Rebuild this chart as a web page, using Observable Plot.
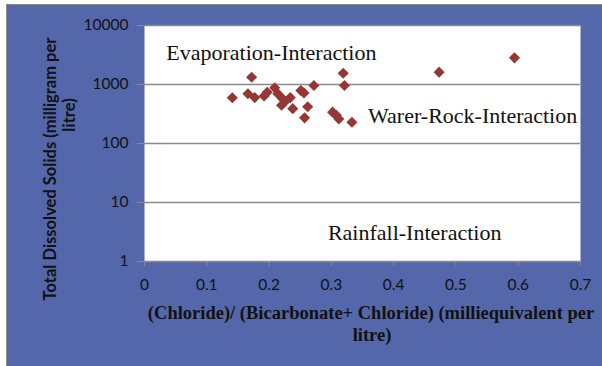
<!DOCTYPE html>
<html>
<head>
<meta charset="utf-8">
<script src="https://cdn.jsdelivr.net/npm/d3@7"></script>
<script src="https://cdn.jsdelivr.net/npm/@observablehq/plot@0.6"></script>
<style>
  html, body { margin: 0; padding: 0; background: #ffffff; }
  #wrap { position: relative; width: 602px; height: 366px; overflow: hidden; }
  #bg { position: absolute; left: 6px; top: 4px; width: 596px; height: 362px; background: #5567AB;
        border-left: 1px solid #8a8a8a; border-top: 1px solid #8a8a8a; box-sizing: border-box; }
  #chart { position: absolute; left: 0; top: 0; }
</style>
</head>
<body>
<div id="wrap"><div id="bg"></div><div id="chart"></div></div>
<script>
// Chloride / (Bicarbonate + Chloride) ratio
const ratio = [0.141, 0.172, 0.166, 0.177, 0.192, 0.197, 0.209, 0.214, 0.222, 0.220, 0.226, 0.234, 0.238,
               0.251, 0.256, 0.262, 0.257, 0.272, 0.319, 0.321, 0.302, 0.308, 0.312, 0.333, 0.473, 0.594];
// Total dissolved solids (mg/L)
const tds = [595, 1330, 695, 600, 640, 740, 880, 700, 570, 445, 520, 600, 390,
             790, 720, 420, 272, 960, 1550, 960, 340, 300, 260, 229, 1620, 2830];

const xTicks = [0, 0.1, 0.2, 0.3, 0.4, 0.5, 0.6, 0.7];
const yTicks = [1, 10, 100, 1000, 10000];

const zoneNames = ["Evaporation-Interaction", "Warer-Rock-Interaction", "Rainfall-Interaction"];
const zoneX = [0.035, 0.359, 0.2945];
const zoneY = [3470, 298, 3.1];

const yTitle = ["Total Dissolved Solids (milligram per", "litre)"];
const xTitle = ["(Chloride)/ (Bicarbonate+ Chloride) (milliequivalent per", "litre)"];

const points = ratio.map((r, i) => ({x: r, y: tds[i]}));
const zones = zoneNames.map((n, i) => ({name: n, x: zoneX[i], y: zoneY[i]}));

const sans = "Lato, 'Open Sans', sans-serif";
const serif = "'Liberation Serif', 'Times New Roman', serif";

const plot = Plot.plot({
  width: 602,
  height: 366,
  marginLeft: 144,
  marginRight: 22,
  marginTop: 25,
  marginBottom: 105,
  style: {background: "transparent", fontFamily: sans, fontSize: "15px", color: "#111"},
  x: {domain: [0, 0.7]},
  y: {type: "log", domain: [1, 10000]},
  marks: [
    Plot.frame({fill: "white", stroke: null}),
    Plot.ruleY(yTicks, {stroke: "#8a8a8a", strokeWidth: 1.3}),
    Plot.axisY({ticks: yTicks, tickFormat: d => String(d), tickSize: 7, tickPadding: 9,
                stroke: "#8a8a8a", fill: "#111", label: null, fontSize: 15.5}),
    Plot.axisX({ticks: xTicks, tickFormat: d => String(+d.toFixed(1)), tickSize: 5, tickPadding: 12,
                stroke: "#8a8a8a", fill: "#111", label: null, fontSize: 15.5}),
    Plot.text(zones, {x: "x", y: "y", text: "name", textAnchor: "start", fontFamily: serif,
                      fontSize: 22, fill: "#111"}),
    Plot.dot(points, {x: "x", y: "y", symbol: "diamond2", r: 5, fill: "#953735", stroke: null})
  ]
});

document.getElementById("chart").appendChild(plot);

const svg = d3.select(plot);
// Y axis title (rotated, two lines)
svg.append("text")
  .attr("transform", "translate(50,169) rotate(-90)")
  .attr("text-anchor", "middle").attr("dominant-baseline", "central")
  .style("font-family", sans).style("font-weight", "bold").style("font-size", "16.5px").attr("fill", "#111")
  .text(yTitle[0]);
svg.append("text")
  .attr("transform", "translate(69,115) rotate(-90)")
  .attr("text-anchor", "middle").attr("dominant-baseline", "central")
  .style("font-family", sans).style("font-weight", "bold").style("font-size", "16.5px").attr("fill", "#111")
  .text(yTitle[1]);
// X axis title (two lines)
svg.append("text")
  .attr("x", 371).attr("y", 313)
  .attr("text-anchor", "middle").attr("dominant-baseline", "central")
  .style("font-family", serif).style("font-weight", "bold").style("font-size", "18.5px").attr("fill", "#111")
  .text(xTitle[0]);
svg.append("text")
  .attr("x", 372).attr("y", 335)
  .attr("text-anchor", "middle").attr("dominant-baseline", "central")
  .style("font-family", serif).style("font-weight", "bold").style("font-size", "18.5px").attr("fill", "#111")
  .text(xTitle[1]);
</script>
</body>
</html>
